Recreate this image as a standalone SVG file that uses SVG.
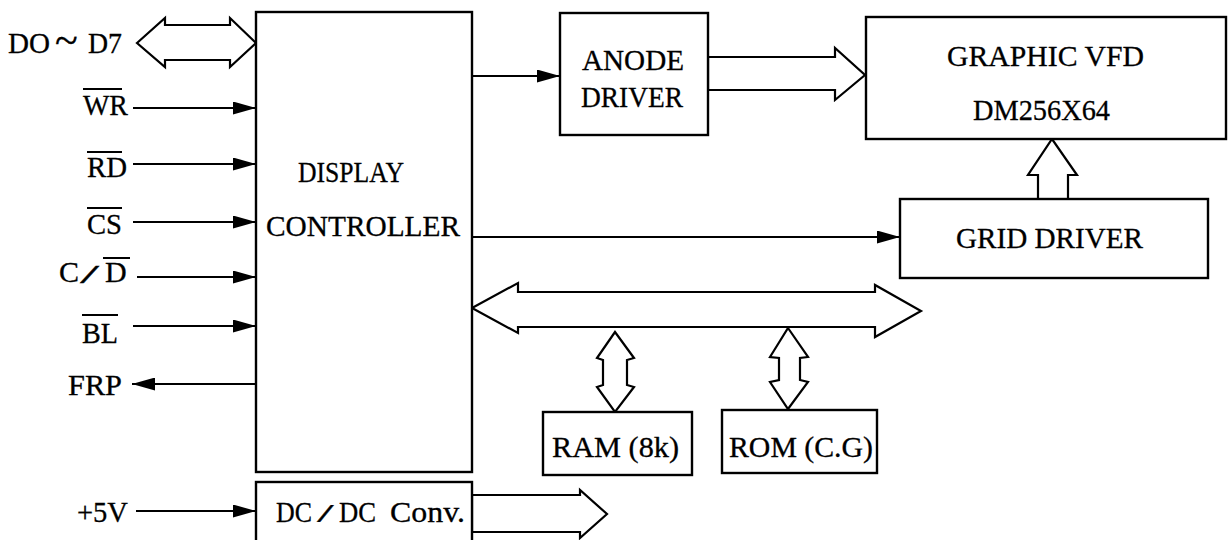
<svg xmlns="http://www.w3.org/2000/svg" width="1229" height="540" viewBox="0 0 1229 540">
<defs>
<marker id="ah" markerUnits="userSpaceOnUse" markerWidth="24" markerHeight="13" refX="23" refY="6.5" orient="auto"><path d="M0,0 L23,6.5 L0,13 Z" fill="#000"/></marker>
</defs>
<style>
.box{fill:#fff;stroke:#000;stroke-width:2.4}
.ln{fill:none;stroke:#000;stroke-width:2}
.bus{fill:#fff;stroke:#000;stroke-width:2.2;stroke-linejoin:miter}
.ov{stroke:#000;stroke-width:2}
text{font-family:"Liberation Serif","Times New Roman",serif;font-size:30px;fill:#000;stroke:#000;stroke-width:0.3}
</style>
<rect width="1229" height="540" fill="#fff"/>

<g id="connectors">
  <polygon class="bus" points="137,43 165,18 165,25 230,25 230,18 256,43 230,67 230,60 165,60 165,67"/>
  <line class="ln" x1="133" y1="108" x2="256" y2="108" marker-end="url(#ah)"/>
  <line class="ln" x1="133" y1="164" x2="256" y2="164" marker-end="url(#ah)"/>
  <line class="ln" x1="133" y1="222" x2="256" y2="222" marker-end="url(#ah)"/>
  <line class="ln" x1="137" y1="277" x2="256" y2="277" marker-end="url(#ah)"/>
  <line class="ln" x1="133" y1="326" x2="256" y2="326" marker-end="url(#ah)"/>
  <line class="ln" x1="256" y1="384" x2="132" y2="384" marker-end="url(#ah)"/>
  <line class="ln" x1="136" y1="511" x2="256" y2="511" marker-end="url(#ah)"/>
  <line class="ln" x1="472" y1="76" x2="560" y2="76" marker-end="url(#ah)"/>
  <line class="ln" x1="472" y1="237" x2="900" y2="237" marker-end="url(#ah)"/>
  <polygon class="bus" points="708,57 835,57 835,48 865,75 835,100 835,90 708,90"/>
  <polygon class="bus" points="1038,199 1038,175 1028,175 1052,139 1077,175 1068,175 1068,199"/>
  <polygon class="bus" points="472,308 518,283 518,292 875,292 875,285 921,311 875,337 875,327 518,327 518,333"/>
  <polygon class="bus" points="615,332 634,358 627,360 627,385 634,387 615,412 597,387 603,385 603,360 597,358"/>
  <polygon class="bus" points="788,328 808,357 800,358 800,380 808,382 788,409 770,382 779,380 779,358 770,357"/>
  <polygon class="bus" points="472,495 580,495 580,490 607,514 580,538 580,532 472,532"/>
</g>

<g id="controller">
  <rect class="box" x="256" y="12" width="216" height="460"/>
  <text x="298" y="182" textLength="106" lengthAdjust="spacingAndGlyphs">DISPLAY</text>
  <text x="266" y="236" textLength="194" lengthAdjust="spacingAndGlyphs">CONTROLLER</text>
</g>

<g id="dcdc">
  <rect class="box" x="256" y="482" width="216" height="70"/>
  <text x="276" y="522" textLength="36" lengthAdjust="spacingAndGlyphs">DC</text>
  <text transform="translate(317,522) scale(2.0,0.82)" x="0" y="0">/</text>
  <text x="339" y="522" textLength="37" lengthAdjust="spacingAndGlyphs">DC</text>
  <text x="390" y="522" textLength="75" lengthAdjust="spacingAndGlyphs">Conv.</text>
</g>

<g id="anode">
  <rect class="box" x="560" y="13" width="148" height="122"/>
  <text x="582" y="70" textLength="102" lengthAdjust="spacingAndGlyphs">ANODE</text>
  <text x="581" y="107" textLength="102" lengthAdjust="spacingAndGlyphs">DRIVER</text>
</g>

<g id="vfd">
  <rect class="box" x="866" y="17" width="360" height="122"/>
  <text x="947" y="66" textLength="197" lengthAdjust="spacingAndGlyphs">GRAPHIC VFD</text>
  <text x="973" y="120" textLength="137" lengthAdjust="spacingAndGlyphs">DM256X64</text>
</g>

<g id="grid">
  <rect class="box" x="900" y="199" width="308" height="79"/>
  <text x="956" y="248" textLength="187" lengthAdjust="spacingAndGlyphs">GRID DRIVER</text>
</g>

<g id="ram">
  <rect class="box" x="543" y="412" width="149" height="63"/>
  <text x="552" y="457" textLength="127" lengthAdjust="spacingAndGlyphs">RAM (8k)</text>
</g>

<g id="rom">
  <rect class="box" x="722" y="410" width="155" height="63"/>
  <text x="729" y="457" textLength="144" lengthAdjust="spacingAndGlyphs">ROM (C.G)</text>
</g>

<g id="sig-data">
  <text x="8" y="53" textLength="42" lengthAdjust="spacingAndGlyphs">DO</text>
  <text x="55" y="54" style="font-size:42px">~</text>
  <text x="88" y="53" textLength="34" lengthAdjust="spacingAndGlyphs">D7</text>
</g>
<g id="sig-wr">
  <line class="ov" x1="83" y1="89" x2="122" y2="89"/>
  <text x="83" y="115" textLength="45" lengthAdjust="spacingAndGlyphs">WR</text>
</g>
<g id="sig-rd">
  <line class="ov" x1="87" y1="152" x2="122" y2="152"/>
  <text x="87" y="177" textLength="40" lengthAdjust="spacingAndGlyphs">RD</text>
</g>
<g id="sig-cs">
  <line class="ov" x1="87" y1="208" x2="122" y2="208"/>
  <text x="87" y="234" textLength="35" lengthAdjust="spacingAndGlyphs">CS</text>
</g>
<g id="sig-cd">
  <text x="59" y="282">C</text>
  <text transform="translate(80,283) scale(2.3,0.85)" x="0" y="0">/</text>
  <line class="ov" x1="103" y1="258" x2="130" y2="258"/>
  <text x="105" y="282">D</text>
</g>
<g id="sig-bl">
  <line class="ov" x1="82" y1="315" x2="118" y2="315"/>
  <text x="82" y="343" textLength="36" lengthAdjust="spacingAndGlyphs">BL</text>
</g>
<g id="sig-frp">
  <text x="68" y="395" textLength="54" lengthAdjust="spacingAndGlyphs">FRP</text>
</g>
<g id="sig-5v">
  <text x="77" y="522" textLength="51" lengthAdjust="spacingAndGlyphs">+5V</text>
</g>
</svg>
